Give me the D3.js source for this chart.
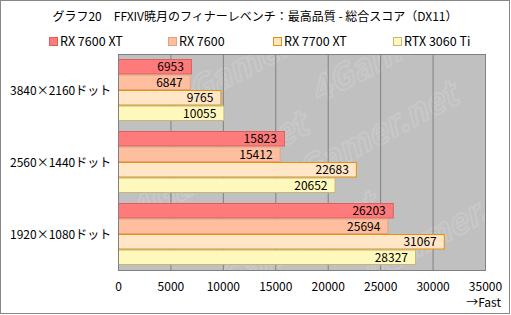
<!DOCTYPE html>
<html>
<head>
<meta charset="utf-8">
<script src="https://cdn.jsdelivr.net/npm/d3@7"></script>
<style>
  body { margin: 0; background: #fff; }
  svg { display: block; }
  text { font-family: "Noto Sans CJK JP", "DejaVu Sans", sans-serif; fill: #000; }
</style>
</head>
<body>
<div id="wrapper"></div>
<script>
const title = 'グラフ20　FFXIV暁月のフィナーレベンチ：最高品質 - 総合スコア（DX11）'
const categories = ['3840×2160ドット', '2560×1440ドット', '1920×1080ドット']
const seriesNames = ['RX 7600 XT', 'RX 7600', 'RX 7700 XT', 'RTX 3060 Ti']
const rx7600xt = [6953, 15823, 26203]
const rx7600 = [6847, 15412, 25694]
const rx7700xt = [9765, 22683, 31067]
const rtx3060ti = [10055, 20652, 28327]
const tickValues = [0, 5000, 10000, 15000, 20000, 25000, 30000, 35000]

const fills = ['#ff7b7b', '#ffbe9e', '#ffe6c6', '#fff8bc']
const strokes = ['#d9605d', '#e0a284', '#e8900c', '#c4b67c']
const series = [rx7600xt, rx7600, rx7700xt, rtx3060ti]

let dimensions = {
    width: 511,
    height: 315,
    margin: { top: 54, right: 26, bottom: 45, left: 118 }
}
dimensions.boundedWidth = dimensions.width - dimensions.margin.left - dimensions.margin.right
dimensions.boundedHeight = dimensions.height - dimensions.margin.top - dimensions.margin.bottom

const svg = d3.select('#wrapper').append('svg')
    .attr('width', dimensions.width)
    .attr('height', dimensions.height)

// outer frame
svg.append('rect')
    .attr('x', 0.5).attr('y', 0.5)
    .attr('width', 509).attr('height', 313)
    .attr('fill', '#fff')
    .attr('stroke', '#888')

svg.append('text')
    .attr('x', 255).attr('y', 21)
    .attr('text-anchor', 'middle')
    .attr('font-size', 12)
    .text(title)

// legend
const legendX = [49, 168, 273, 393]
const legend = svg.selectAll('.legend')
    .data(seriesNames)
    .join('g')
    .attr('transform', (d, i) => `translate(${legendX[i]}, 37)`)
legend.append('rect')
    .attr('x', 0.5).attr('y', 0.5)
    .attr('width', 8).attr('height', 8)
    .attr('fill', (d, i) => fills[i])
    .attr('stroke', (d, i) => strokes[i])
legend.append('text')
    .attr('x', 11).attr('y', 9)
    .attr('font-size', 12.5)
    .text(d => d)

const bounds = svg.append('g')
    .attr('transform', `translate(${dimensions.margin.left}, ${dimensions.margin.top})`)

const xScale = d3.scaleLinear()
    .domain([0, 35000])
    .range([0, dimensions.boundedWidth])

const yScale = d3.scaleBand()
    .domain(categories)
    .range([0, dimensions.boundedHeight])

const innerScale = d3.scaleBand()
    .domain(seriesNames)
    .range([5, yScale.bandwidth() - 5])

// plot background + watermark
bounds.append('clipPath').attr('id', 'clip')
    .append('rect')
    .attr('width', dimensions.boundedWidth)
    .attr('height', dimensions.boundedHeight)
bounds.append('rect')
    .attr('width', dimensions.boundedWidth)
    .attr('height', dimensions.boundedHeight)
    .attr('fill', '#c0c0c0')
const wm = bounds.append('g').attr('clip-path', 'url(#clip)')
const wmPos = [[60, 60], [200, 50], [20, 170], [170, 140], [90, 250], [250, 230]]
wm.selectAll('text')
    .data(wmPos)
    .join('text')
    .attr('transform', d => `translate(${d[0]}, ${d[1]}) rotate(-28)`)
    .attr('font-size', 34)
    .attr('font-weight', 'bold')
    .attr('font-style', 'italic')
    .style('fill', 'none')
    .style('stroke', '#c8c8c8')
    .style('stroke-width', 2)
    .text('4Gamer.net')

// grid
bounds.append('g')
    .selectAll('line')
    .data(tickValues.slice(1, -1))
    .join('line')
    .attr('x1', d => xScale(d) + 0.5)
    .attr('x2', d => xScale(d) + 0.5)
    .attr('y1', 0)
    .attr('y2', dimensions.boundedHeight)
    .attr('stroke', '#808080')

// bars
const groups = bounds.selectAll('.group')
    .data(categories)
    .join('g')
    .attr('transform', d => `translate(0, ${yScale(d)})`)

groups.each(function (cat, ci) {
    const g = d3.select(this)
    seriesNames.forEach((name, si) => {
        const v = series[si][ci]
        g.append('rect')
            .attr('x', 0.5)
            .attr('y', innerScale(name) + 0.5)
            .attr('width', xScale(v))
            .attr('height', innerScale.bandwidth() - 1)
            .attr('fill', fills[si])
            .attr('stroke', strokes[si])
        g.append('text')
            .attr('x', xScale(v) - 7)
            .attr('y', innerScale(name) + innerScale.bandwidth() / 2 + 4.5)
            .attr('text-anchor', 'end')
            .attr('font-size', 12)
            .text(v)
    })
})

// plot frame
bounds.append('rect')
    .attr('x', 0.5).attr('y', 0.5)
    .attr('width', dimensions.boundedWidth)
    .attr('height', dimensions.boundedHeight)
    .attr('fill', 'none')
    .attr('stroke', '#808080')

// category labels
svg.selectAll('.cat')
    .data(categories)
    .join('text')
    .attr('x', 10)
    .attr('y', d => dimensions.margin.top + yScale(d) + yScale.bandwidth() / 2 + 4.5)
    .attr('font-size', 12)
    .text(d => d)

// x axis labels
const xAxis = bounds.append('g')
    .attr('transform', `translate(0, ${dimensions.boundedHeight})`)
    .call(d3.axisBottom(xScale).tickValues(tickValues).tickSize(0).tickPadding(12).tickFormat(d3.format('d')))
xAxis.select('.domain').remove()
xAxis.selectAll('text')
    .attr('font-size', 12)
    .attr('font-family', '"Noto Sans CJK JP", "DejaVu Sans", sans-serif')
    .style('fill', '#000')

svg.append('text')
    .attr('x', 501).attr('y', 307)
    .attr('text-anchor', 'end')
    .attr('font-size', 12)
    .text('→Fast')
</script>
</body>
</html>
